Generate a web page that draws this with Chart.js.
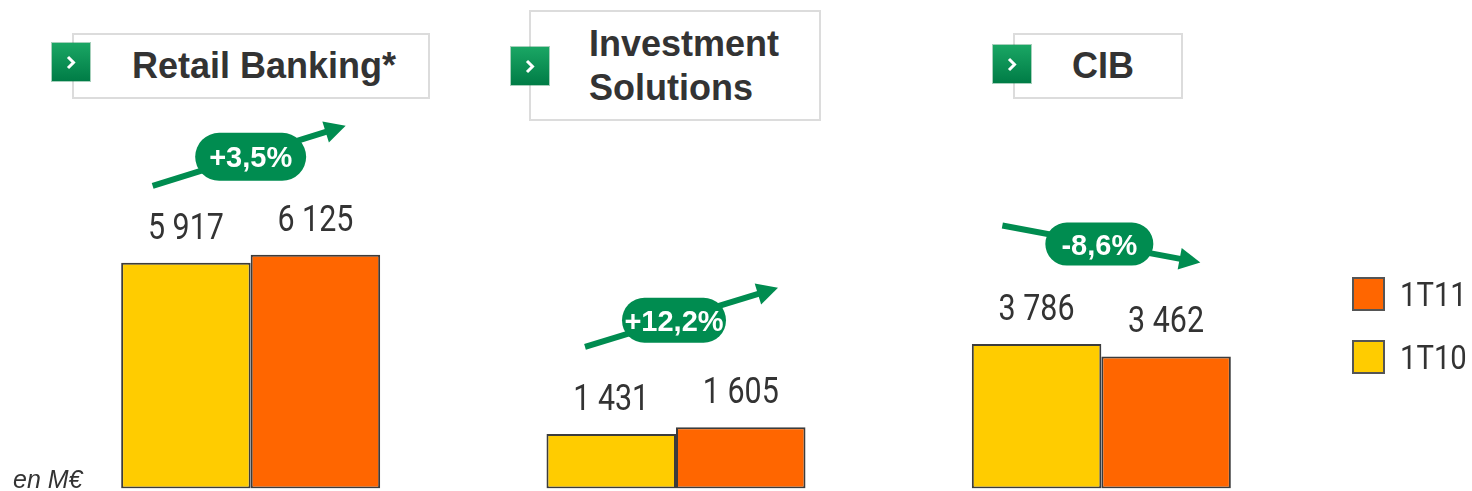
<!DOCTYPE html>
<html>
<head>
<meta charset="utf-8">
<script src="https://cdn.jsdelivr.net/npm/chart.js@4.4.1/dist/chart.umd.min.js"></script>
<style>
  html, body { margin: 0; padding: 0; background: #fff; }
  #wrap { position: relative; width: 1472px; height: 491px; overflow: hidden; }
  #chart { position: absolute; left: 0; top: 0; }
  .title-box {
    position: absolute; box-sizing: border-box; border: 2px solid #dcdcdc; background: #fff;
    display: flex; align-items: center;
    font: bold 36px "Liberation Sans", Arial, sans-serif; color: #333; line-height: 44px;
  }
  .chev {
    position: absolute; width: 38px; height: 38px; z-index: 2;
    background: linear-gradient(#1aa664, #007c46);
    box-shadow: 0 0 0 1px rgba(0,120,60,0.35);
  }
  .legend-row { position: absolute; left: 1352px; display: flex; align-items: center; }
  .legend-row .sw { width: 33px; height: 34px; box-sizing: border-box; border: 2px solid #555; }
  .legend-row .lb {
    margin-left: 15px; font: 34px Roboto, sans-serif; color: #333;
    transform: scaleX(0.86); transform-origin: left center;
  }
  #unit {
    position: absolute; left: 13px; top: 465px;
    font: italic 25px "Liberation Sans", Arial, sans-serif; color: #333;
  }
</style>
</head>
<body>
<div id="wrap">
  <canvas id="chart" width="1472" height="491"></canvas>

  <div class="title-box" style="left:72px; top:33px; width:358px; height:66px; padding-left:58px;">Retail Banking*</div>
  <div class="title-box" style="left:529px; top:10px; width:292px; height:111px; padding-left:58px;">Investment<br>Solutions</div>
  <div class="title-box" style="left:1013px; top:33px; width:170px; height:66px; padding-left:57px;">CIB</div>

  <div class="chev" style="left:52px; top:43px;"><svg width="38" height="38"><polyline points="16,14 21.5,19.5 16,25" fill="none" stroke="#fff" stroke-width="3"/></svg></div>
  <div class="chev" style="left:511px; top:47px;"><svg width="38" height="38"><polyline points="16,14 21.5,19.5 16,25" fill="none" stroke="#fff" stroke-width="3"/></svg></div>
  <div class="chev" style="left:993px; top:45px;"><svg width="38" height="38"><polyline points="16,14 21.5,19.5 16,25" fill="none" stroke="#fff" stroke-width="3"/></svg></div>

  <div id="legend"></div>
  <div id="unit">en M€</div>
</div>

<script>
const categories = ['Retail Banking*', 'Investment Solutions', 'CIB'];
const seriesNames = ['1T10', '1T11'];
const values1T10 = [5917, 1431, 3786];
const values1T11 = [6125, 1605, 3462];
const changeLabels = ['+3,5%', '+12,2%', '-8,6%'];

const YELLOW = '#FFCC00';
const ORANGE = '#FF6600';
const GREEN = '#008C50';
const BORDER = '#3c3c3c';

// pill / arrow placement relative to the top of each group (pixels)
const pillLayout = [
  { dx: 0,  dy: 98,  w: 111, h: 48, sx: -98, sy: 29,    ex: 95,  ey: -31 },
  { dx: -2, dy: 107, w: 104, h: 45, sx: -89, sy: 26.5,  ex: 104, ey: -32.5 },
  { dx: -2, dy: 100, w: 108, h: 43, sx: -97, sy: -18.5, ex: 101, ey: 18.5 }
];

function formatValue(n) {
  return String(n).replace(/\B(?=(\d{3})+(?!\d))/g, ' ');
}

function roundRect(ctx, x, y, w, h, r) {
  ctx.beginPath();
  ctx.moveTo(x + r, y);
  ctx.lineTo(x + w - r, y);
  ctx.arc(x + w - r, y + r, r, -Math.PI / 2, Math.PI / 2);
  ctx.lineTo(x + r, y + h);
  ctx.arc(x + r, y + r, r, Math.PI / 2, Math.PI * 1.5);
  ctx.closePath();
}

// condensed look: Roboto squeezed horizontally
const NARROW = 0.845;

const valueLabels = {
  id: 'valueLabels',
  afterDatasetsDraw(chart) {
    const ctx = chart.ctx;
    ctx.save();
    ctx.font = '36px Roboto, sans-serif';
    ctx.fillStyle = '#333';
    ctx.textAlign = 'center';
    ctx.textBaseline = 'alphabetic';
    chart.data.datasets.forEach((ds, di) => {
      chart.getDatasetMeta(di).data.forEach((bar, i) => {
        ctx.save();
        ctx.translate(bar.x, bar.y - 24);
        ctx.scale(NARROW, 1);
        ctx.fillText(formatValue(ds.data[i]), 0, 0);
        ctx.restore();
      });
    });
    ctx.restore();
  }
};

const changeArrows = {
  id: 'changeArrows',
  afterDatasetsDraw(chart) {
    const ctx = chart.ctx;
    const xs = chart.scales.x;
    const ys = chart.scales.y;
    ctx.save();
    categories.forEach((c, i) => {
      const L = pillLayout[i];
      const top = ys.getPixelForValue(Math.max(values1T10[i], values1T11[i]));
      const cx = xs.getPixelForValue(i) + L.dx;
      const cy = top - L.dy;

      // arrow
      const x1 = cx + L.sx, y1 = cy + L.sy, x2 = cx + L.ex, y2 = cy + L.ey;
      const ang = Math.atan2(y2 - y1, x2 - x1);
      const headLen = 21, headW = 11;
      const bx = x2 - headLen * Math.cos(ang), by = y2 - headLen * Math.sin(ang);
      ctx.strokeStyle = GREEN;
      ctx.fillStyle = GREEN;
      ctx.lineWidth = 6;
      ctx.beginPath();
      ctx.moveTo(x1, y1);
      ctx.lineTo(bx + 2 * Math.cos(ang), by + 2 * Math.sin(ang));
      ctx.stroke();
      ctx.beginPath();
      ctx.moveTo(x2, y2);
      ctx.lineTo(bx + headW * Math.sin(ang), by - headW * Math.cos(ang));
      ctx.lineTo(bx - headW * Math.sin(ang), by + headW * Math.cos(ang));
      ctx.closePath();
      ctx.fill();

      // pill
      roundRect(ctx, cx - L.w / 2, cy - L.h / 2, L.w, L.h, L.h / 2);
      ctx.fill();

      ctx.fillStyle = '#fff';
      ctx.font = 'bold 29px "Liberation Sans", Arial, sans-serif';
      ctx.textAlign = 'center';
      ctx.textBaseline = 'alphabetic';
      ctx.fillText(changeLabels[i], cx, cy + 10.5);
    });
    ctx.restore();
  }
};

const colors = [YELLOW, ORANGE];

new Chart(document.getElementById('chart'), {
  type: 'bar',
  data: {
    labels: categories,
    datasets: [
      { label: seriesNames[0], data: values1T10, backgroundColor: YELLOW },
      { label: seriesNames[1], data: values1T11, backgroundColor: ORANGE }
    ].map(d => ({
      ...d,
      borderColor: BORDER,
      borderWidth: 2,
      borderSkipped: false,
      categoryPercentage: 0.609,
      barPercentage: 1.0
    }))
  },
  options: {
    responsive: false,
    animation: false,
    layout: { padding: { left: 38, right: 158, top: 107, bottom: 2.5 } },
    plugins: {
      legend: { display: false },
      tooltip: { enabled: false }
    },
    scales: {
      x: { display: false, grid: { display: false } },
      y: { display: false, min: 0, max: 10000 }
    }
  },
  plugins: [changeArrows, valueLabels]
});

// legend: newest series on top
const legend = document.getElementById('legend');
const legendTops = [274, 337];
[1, 0].forEach((si, row) => {
  const div = document.createElement('div');
  div.className = 'legend-row';
  div.style.top = legendTops[row] + 'px';
  div.innerHTML = `<div class="sw" style="background:${colors[si]}"></div><div class="lb">${seriesNames[si]}</div>`;
  legend.appendChild(div);
});
</script>
</body>
</html>
